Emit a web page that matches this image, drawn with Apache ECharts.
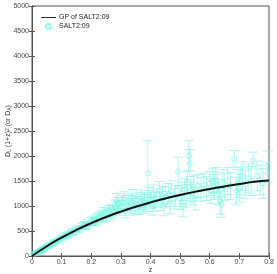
<!DOCTYPE html>
<html><head><meta charset="utf-8">
<script src="https://cdn.jsdelivr.net/npm/echarts@6/dist/echarts.min.js"></script>
<style>html,body{margin:0;padding:0;background:#fff}#c{width:277px;height:274px}</style>
</head><body><div id="c"></div>
<script>
// GP reconstruction curve (z, D_L(1+z)^-2)
var gpZ = [0,0.05,0.1,0.15,0.2,0.25,0.3,0.35,0.4,0.45,0.5,0.55,0.6,0.65,0.7,0.75,0.8];
var gpD = [0,195,368,522,658,780,888,985,1072,1150,1220,1283,1340,1392,1440,1483,1508];
// SALT2:09 supernova data
var snZ = [0.010,0.015,0.017,0.020,0.022,0.024,0.026,0.028,0.030,0.032,0.034,0.036,0.038,0.040,0.043,0.046,0.050,0.053,0.056,0.060,0.065,0.070,0.075,0.080,0.085,0.090,0.095,0.100,0.105,0.110,0.115,0.120,0.125,0.130,0.135,0.140,0.150,0.155,0.160,0.170,0.175,0.180,0.185,0.190,0.200,0.205,0.210,0.215,0.220,0.225,0.230,0.235,0.240,0.245,0.250,0.255,0.260,0.265,0.270,0.275,0.280,0.285,0.287,0.290,0.295,0.300,0.305,0.310,0.315,0.320,0.325,0.330,0.335,0.340,0.345,0.350,0.355,0.360,0.365,0.370,0.375,0.380,0.385,0.391,0.395,0.400,0.405,0.410,0.415,0.420,0.430,0.435,0.440,0.445,0.450,0.460,0.465,0.470,0.480,0.485,0.493,0.500,0.505,0.510,0.515,0.520,0.525,0.529,0.533,0.535,0.540,0.545,0.550,0.560,0.570,0.580,0.590,0.600,0.605,0.610,0.615,0.620,0.625,0.630,0.635,0.639,0.645,0.650,0.660,0.670,0.683,0.690,0.695,0.700,0.705,0.710,0.720,0.730,0.740,0.746,0.760,0.770,0.780,0.795,0.797];
var snD = [45,60,75,85,70,95,100,110,115,105,130,125,140,150,160,170,180,195,210,220,235,250,275,285,300,320,340,365,375,395,410,420,440,455,480,490,520,540,545,590,600,620,610,660,690,700,720,690,750,760,800,780,820,870,800,850,900,830,920,880,1000,960,1120,1050,940,980,1080,1150,900,1020,1100,960,1060,1180,1000,1040,1120,990,1080,1150,1020,1100,1060,1654,1200,1130,1000,1240,1080,1160,1300,1100,1200,1000,1180,1250,1050,1300,1150,1200,1687,1140,1260,1000,1330,1200,1460,2007,1860,1300,1250,1380,1150,1400,1330,1420,1350,1450,1300,1500,1380,1520,1420,1280,1100,1033,1460,1380,1500,1400,1940,1300,1450,1360,1500,1600,1430,1550,1500,1907,1600,1520,1450,1673,1800];
var snErr = [15,15,15,18,18,18,20,20,20,22,22,22,25,25,25,28,28,30,30,32,32,35,35,38,38,40,40,42,45,45,48,50,50,52,55,55,60,60,62,65,70,70,72,75,80,80,85,85,90,90,95,95,100,100,105,105,110,110,115,115,120,120,130,125,125,130,130,135,135,140,140,145,145,150,150,155,155,160,160,165,165,170,170,650,175,175,180,180,185,185,190,190,195,195,200,200,205,205,210,210,290,210,215,215,220,220,230,300,270,220,225,225,230,230,235,235,240,240,245,245,250,250,255,255,260,260,265,265,270,270,170,275,275,280,280,285,285,290,290,170,295,295,300,200,300];
var xTicks = ['0','0.1','0.2','0.3','0.4','0.5','0.6','0.7','0.8'];
var yTicks = ['0','500','1000','1500','2000','2500','3000','3500','4000','4500','5000'];

var cyan = 'rgb(120,245,228)';
var errData = snZ.map(function(z,i){return [z, snD[i], snErr[i]];});
var ptData = snZ.map(function(z,i){return [z, snD[i]];});
var gpData = gpZ.map(function(z,i){return [z, gpD[i]];});

var chart = echarts.init(document.getElementById('c'));
var tickStyle = {color:'#444', fontSize:7, fontFamily:'Liberation Sans, Arial, sans-serif'};
var axLine = {show:true, lineStyle:{color:'#555', width:1}};
var tk = {show:true, inside:true, length:3, lineStyle:{color:'#555'}};
chart.setOption({
  animation:false,
  grid:{left:32, right:8, top:6, bottom:18, containLabel:false, outerBoundsMode:'none',
        show:true, borderColor:'#555', borderWidth:1, backgroundColor:'transparent'},
  legend:{
    orient:'vertical', left:36, top:9, itemGap:2, itemWidth:15, itemHeight:5,
    textStyle:{fontSize:7, color:'#222', fontFamily:'Liberation Sans, Arial, sans-serif', padding:[0,0,0,-2]},
    data:[{name:'GP of SALT2:09', icon:'path://M0,0H20V1.2H0Z'},{name:'SALT2:09', icon:'circle'}]
  },
  xAxis:[{
    type:'value', min:0, max:0.8, interval:0.1, position:'bottom',
    name:'z', nameLocation:'middle', nameGap:11, nameMoveOverlap:false,
    nameTextStyle:{fontSize:7, color:'#333', fontFamily:'Liberation Sans, Arial, sans-serif'},
    axisLine:axLine, axisTick:tk,
    axisLabel:Object.assign({margin:3, formatter:function(v){return xTicks[Math.round(v*10)];}}, tickStyle),
    splitLine:{show:false}
  },{
    type:'value', min:0, max:0.8, interval:0.1, position:'top',
    axisLine:axLine, axisTick:tk, axisLabel:{show:false}, splitLine:{show:false}
  }],
  yAxis:[{
    type:'value', min:0, max:5000, interval:500, position:'left',
    name:'{m|D}{s|L}{m| (1+z)}{p|2}{m| (or D}{s|A}{m|)}', nameLocation:'middle', nameGap:20, nameRotate:90, nameMoveOverlap:false,
    nameTextStyle:{fontSize:7, color:'#333', fontFamily:'Liberation Sans, Arial, sans-serif',
      rich:{m:{fontSize:7,color:'#333'}, s:{fontSize:5,color:'#333',verticalAlign:'bottom'}, p:{fontSize:5,color:'#333',verticalAlign:'top'}}},
    axisLine:axLine, axisTick:tk,
    axisLabel:Object.assign({margin:3, formatter:function(v){return yTicks[Math.round(v/500)];}}, tickStyle), splitLine:{show:false}
  },{
    type:'value', min:0, max:5000, interval:500, position:'right',
    axisLine:axLine, axisTick:tk, axisLabel:{show:false}, splitLine:{show:false}
  }],
  series:[
    {
      name:'errbars', type:'custom', data:errData, z:2, silent:true,
      renderItem:function(params, api){
        var x = api.value(0), y = api.value(1), e = api.value(2);
        var t = api.coord([x, y+e]), b = api.coord([x, y-e]);
        var w = 5;
        var st = {stroke:cyan, lineWidth:0.8, opacity:0.75};
        return {type:'group', children:[
          {type:'line', shape:{x1:t[0],y1:t[1],x2:b[0],y2:b[1]}, style:st},
          {type:'line', shape:{x1:t[0]-w,y1:t[1],x2:t[0]+w,y2:t[1]}, style:st},
          {type:'line', shape:{x1:b[0]-w,y1:b[1],x2:b[0]+w,y2:b[1]}, style:st}
        ]};
      }
    },
    {
      name:'SALT2:09', type:'scatter', data:ptData, symbol:'circle', symbolSize:5, z:3,
      itemStyle:{color:'rgba(0,0,0,0)', borderColor:cyan, borderWidth:0.8}
    },
    {
      name:'GP of SALT2:09', type:'line', data:gpData, smooth:true, symbol:'none', z:5,
      lineStyle:{color:'#111', width:2}, itemStyle:{color:'#111'}
    }
  ]
});
</script></body></html>
